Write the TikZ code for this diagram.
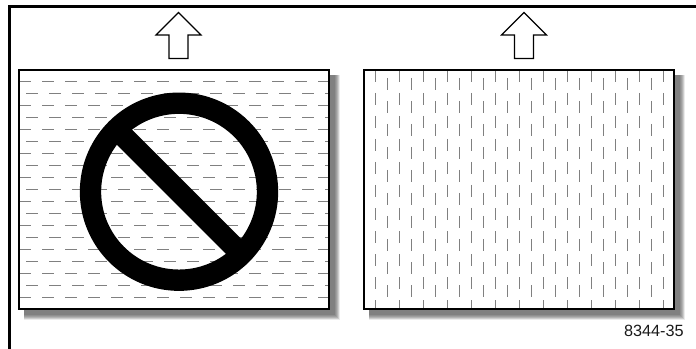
\documentclass[tikz,border=0pt]{standalone}
\usepackage{fontspec}
\setmainfont{Liberation Sans}
\begin{document}
\begin{tikzpicture}[x=0.75pt, y=-0.75pt,
  frameline/.style={draw=black, line width=1.6pt},
  sheet/.style={draw=black, line width=1.1pt, fill=none},
  uparrow/.style={draw=black, line width=0.9pt, fill=white, line join=miter},
  hdash/.style={draw=black!50, line width=0.85pt, dash pattern=on 9pt off 8.25pt},
  vdash/.style={draw=black!50, line width=0.85pt, dash pattern=on 9pt off 8.25pt},
  forbid/.style={draw=black, line width=16pt},
  partno/.style={font=\fontsize{12.2}{14}\selectfont, text=black!90, inner sep=0pt, anchor=east}]

\useasboundingbox (0,0) rectangle (696,349);

\draw[frameline] (9.5,349) -- (9.5,6.5) -- (696,6.5);

% shadows
\foreach \sx in {0,345}{
  \foreach \off/\shade in {11/8,10/20,9/30,8/38,7/44,6/50,5/50}{
    \fill[black!\shade] (\sx+24,75) rectangle (\sx+329+\off,309+\off);
  }
  \fill[white] (\sx+19,70) rectangle (\sx+329,309);
}

% horizontal dashes
\begin{scope}
\clip (19,70) rectangle (329,309);
\foreach \row in {0,...,9}{
  \draw[hdash] (19,81.5+24*\row) -- (329,81.5+24*\row);
}
\foreach \row in {0,...,8}{
  \draw[hdash] (26,93.5+24*\row) -- (329,93.5+24*\row);
}
\end{scope}

% vertical dashes
\begin{scope}
\clip (364,70) rectangle (674,309);
\foreach \col in {0,...,12}{
  \draw[vdash] (375.5+24*\col,70) -- (375.5+24*\col,309);
}
\foreach \col in {0,...,11}{
  \draw[vdash] (387.5+24*\col,78) -- (387.5+24*\col,309);
}
\end{scope}

\draw[sheet] (19,70) rectangle (329,309);
\draw[sheet] (364,70) rectangle (674,309);

% prohibition sign
\draw[forbid] (179,191.7) circle (88.5);
\draw[forbid] (116.4,129.1) -- (241.6,254.3);

% arrows
\foreach \ax in {178.5,524}{
  \draw[uparrow] (\ax,12.5) -- (\ax+22.5,35) -- (\ax+9.5,35) -- (\ax+9.5,58.5)
    -- (\ax-9.5,58.5) -- (\ax-9.5,35) -- (\ax-22.5,35) -- cycle;
}

\node[partno] (partno) at (684,331) {8344-35};

\end{tikzpicture}
\end{document}
